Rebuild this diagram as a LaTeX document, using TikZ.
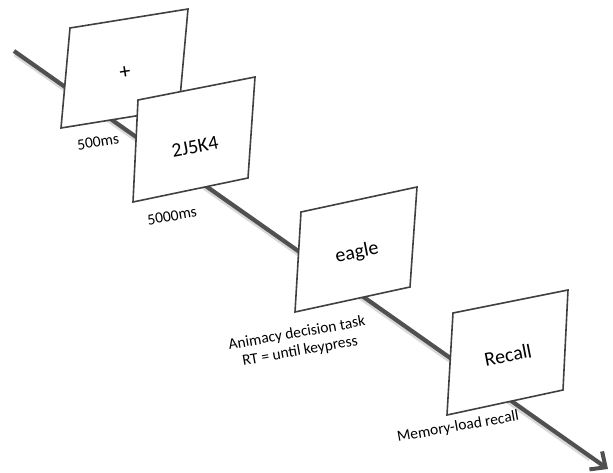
\documentclass[tikz,border=0pt]{standalone}
\usepackage{fontspec}
\setmainfont{Carlito}
\usetikzlibrary{arrows.meta}
\definecolor{cardline}{HTML}{404040}
\definecolor{timeline}{HTML}{505050}
\definecolor{shadowc}{HTML}{C8C8C8}
\tikzset{
  card/.style={draw=cardline, line width=1.6pt, fill=white, line join=miter},
  cardtext/.style={font=\fontsize{20}{22}\selectfont, text=black, inner sep=0pt},
  lbl/.style={font=\fontsize{15.5}{18}\selectfont, text=black, inner sep=0pt, align=center},
  tl/.style={draw=timeline, line width=4.2pt, -{Straight Barb[length=12pt,width=22pt,line width=4pt]}},
  tlshadow/.style={draw=shadowc, line width=5pt, opacity=0.7}
}
\begin{document}
\begin{tikzpicture}[x=1pt,y=-1pt]
\useasboundingbox (0,0) rectangle (613,473);
\coordinate (tstart) at (14,51);
\coordinate (tend) at (608,469);
\coordinate (sstart) at (15,54);
\coordinate (send) at (590,459);
% time line
\draw[tlshadow] (sstart) -- (send);
\draw[tl] (tstart) -- (tend);
% cards
\draw[card] (70,28) -- (188,9) -- (179,109) -- (61,128) -- cycle;
\node[cardtext, font=\fontsize{22}{24}\selectfont, rotate=9] (fix) at (125,73) {+};
\draw[card] (138,100) -- (255,77) -- (248,178) -- (133,202) -- cycle;
\node[cardtext, rotate=11] (mem) at (195,147) {2J5K4};
\draw[card] (301,212) -- (417,187) -- (410,287) -- (295,312) -- cycle;
\node[cardtext, rotate=11] (eagle) at (357,253) {eagle};
\draw[card] (453,313) -- (568,290) -- (563,390) -- (447,415) -- cycle;
\node[cardtext, rotate=11] (recall) at (508,355) {Recall};
% labels
\node[lbl, rotate=9] (l1) at (98,142) {500ms};
\node[lbl, rotate=10] (l2) at (172,216) {5000ms};
\node[lbl, rotate=10] (l3) at (298.5,342.5) {Animacy decision task\\RT = until keypress};
\node[lbl, rotate=10] (l4) at (458,427) {Memory-load recall};
\end{tikzpicture}
\end{document}
